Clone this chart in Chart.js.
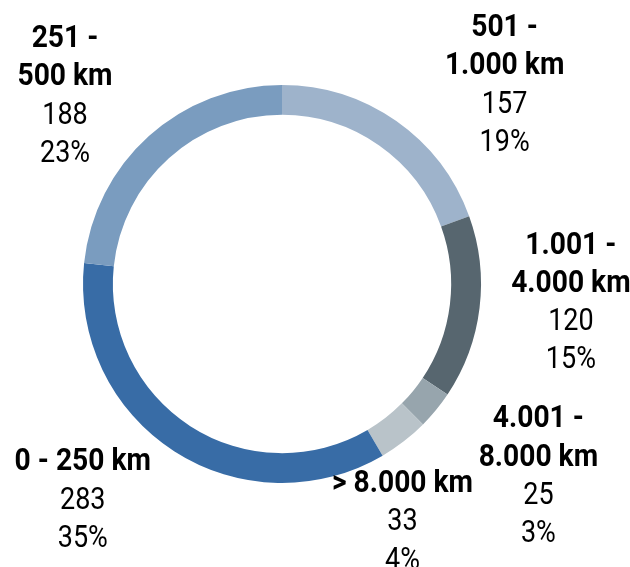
<!DOCTYPE html>
<html>
<head>
<meta charset="utf-8">
<script src="https://cdn.jsdelivr.net/npm/chart.js@4"></script>
<style>
html,body{margin:0;padding:0;background:#fff;}
#wrap{width:630px;height:567px;position:relative;}
</style>
</head>
<body>
<div id="wrap"><canvas id="c" width="630" height="567"></canvas></div>
<script>
// Data
const categories = [
  ["501 -", "1.000 km"],
  ["1.001 -", "4.000 km"],
  ["4.001 -", "8.000 km"],
  ["> 8.000 km"],
  ["0 - 250 km"],
  ["251 -", "500 km"]
];
const counts = [157, 120, 25, 33, 283, 188];

// Styles
const colors = ["#9eb3cb", "#57666f", "#97a5ad", "#b9c3c9", "#386ca6", "#7a9cbf"];
const labelRadius = 290;
const labelOffsets = [[56, 36], [1, -19], [32, 6], [-57, 6], [-42, -30], [-23, 25]];
const fontSize = 31;
const lineGap = 38.3;

const total = counts.reduce((a, b) => a + b, 0);

const labelPlugin = {
  id: 'ringLabels',
  afterDraw(chart) {
    const ctx = chart.ctx;
    const meta = chart.getDatasetMeta(0);
    ctx.save();
    ctx.fillStyle = '#000';
    ctx.textAlign = 'center';
    ctx.textBaseline = 'alphabetic';
    meta.data.forEach((arc, i) => {
      const mid = (arc.startAngle + arc.endAngle) / 2;
      const cx = arc.x + labelRadius * Math.cos(mid) + labelOffsets[i][0];
      const cy = arc.y + labelRadius * Math.sin(mid) + labelOffsets[i][1];
      const lines = [];
      categories[i].forEach(t => lines.push({t, bold: true}));
      lines.push({t: String(counts[i]), bold: false});
      lines.push({t: Math.round(counts[i] / total * 100) + '%', bold: false});
      const n = lines.length;
      lines.forEach((ln, k) => {
        const ly = cy + (k - (n - 1) / 2) * lineGap + fontSize * 0.355;
        ctx.save();
        ctx.translate(cx, ly);
        ctx.scale(ln.bold ? 0.91 : 0.87, 1);
        ctx.font = (ln.bold ? 'bold ' : '') + fontSize + 'px Roboto';
        ctx.fillText(ln.t, 0, 0);
        ctx.restore();
      });
    });
    ctx.restore();
  }
};

new Chart(document.getElementById('c'), {
  type: 'doughnut',
  data: {
    labels: categories.map(c => c.join(' ')),
    datasets: [{
      data: counts,
      backgroundColor: colors,
      borderWidth: 0
    }]
  },
  options: {
    responsive: false,
    animation: false,
    cutout: '85%',
    rotation: 0,
    layout: { padding: { top: 85, bottom: 84, left: 83, right: 149 } },
    plugins: { legend: { display: false }, tooltip: { enabled: false } }
  },
  plugins: [labelPlugin]
});
</script>
</body>
</html>
